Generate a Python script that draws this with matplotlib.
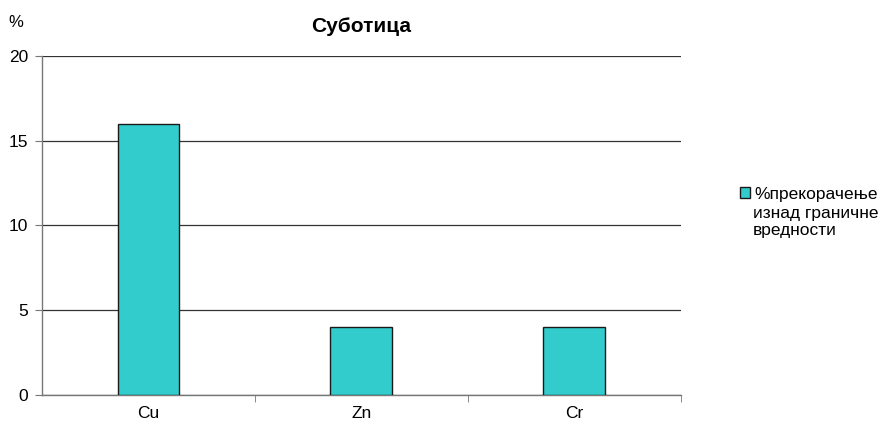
import matplotlib.pyplot as plt
import numpy as np

plt.rcParams['font.family'] = ['Liberation Sans', 'DejaVu Sans']

# podaci
elementi = ['Cu', 'Zn', 'Cr']
prekoracenje = [16, 4, 4]
y_ticks = [0, 5, 10, 15, 20]
naslov = 'Суботица'
legenda = ['%прекорачење', 'изнад граничне', 'вредности']

fig = plt.figure(figsize=(8.87, 4.21), dpi=100)
ax = fig.add_axes([0.0474, 0.062, 0.72, 0.805])

x = np.arange(len(elementi))
bars = ax.bar(x, prekoracenje, width=0.29, color='#33CCCC',
              edgecolor='#1a1a1a', linewidth=1.0, zorder=3, label=legenda[0])

ax.set_xlim(-0.5, len(elementi) - 0.5)
ax.set_ylim(0, 20)
ax.set_yticks(y_ticks)
ax.set_yticklabels([str(v) for v in y_ticks], fontsize=12.5)
ax.yaxis.grid(True, color='#333333', linewidth=0.9, zorder=0)

# kategorije ispod, podeoci izmedju
ax.set_xticks(x)
ax.set_xticklabels(elementi, fontsize=12.5)
ax.tick_params(axis='x', length=0, pad=8)
ax.set_xticks(np.arange(len(elementi)) + 0.5, minor=True)
ax.tick_params(axis='x', which='minor', length=5, color='#777777')
ax.tick_params(axis='y', length=5, color='#777777', pad=5)

for s in ['top', 'right']:
    ax.spines[s].set_visible(False)
for s in ['left', 'bottom']:
    ax.spines[s].set_color('#777777')
    ax.spines[s].set_linewidth(1.0)

ax.set_title(naslov, fontsize=15, fontweight='bold', pad=17)
fig.text(0.010, 0.935, '%', fontsize=12)

leg = fig.legend(loc='upper left', bbox_to_anchor=(0.834, 0.557), frameon=False,
                 fontsize=12.5, handlelength=0.6, handleheight=0.6, handletextpad=0.25,
                 borderaxespad=0, borderpad=0)
fig.text(0.849, 0.511, '\n'.join(legenda[1:]), fontsize=12.5, va='top',
         linespacing=1.2)

fig.savefig('out.png', dpi=100)
